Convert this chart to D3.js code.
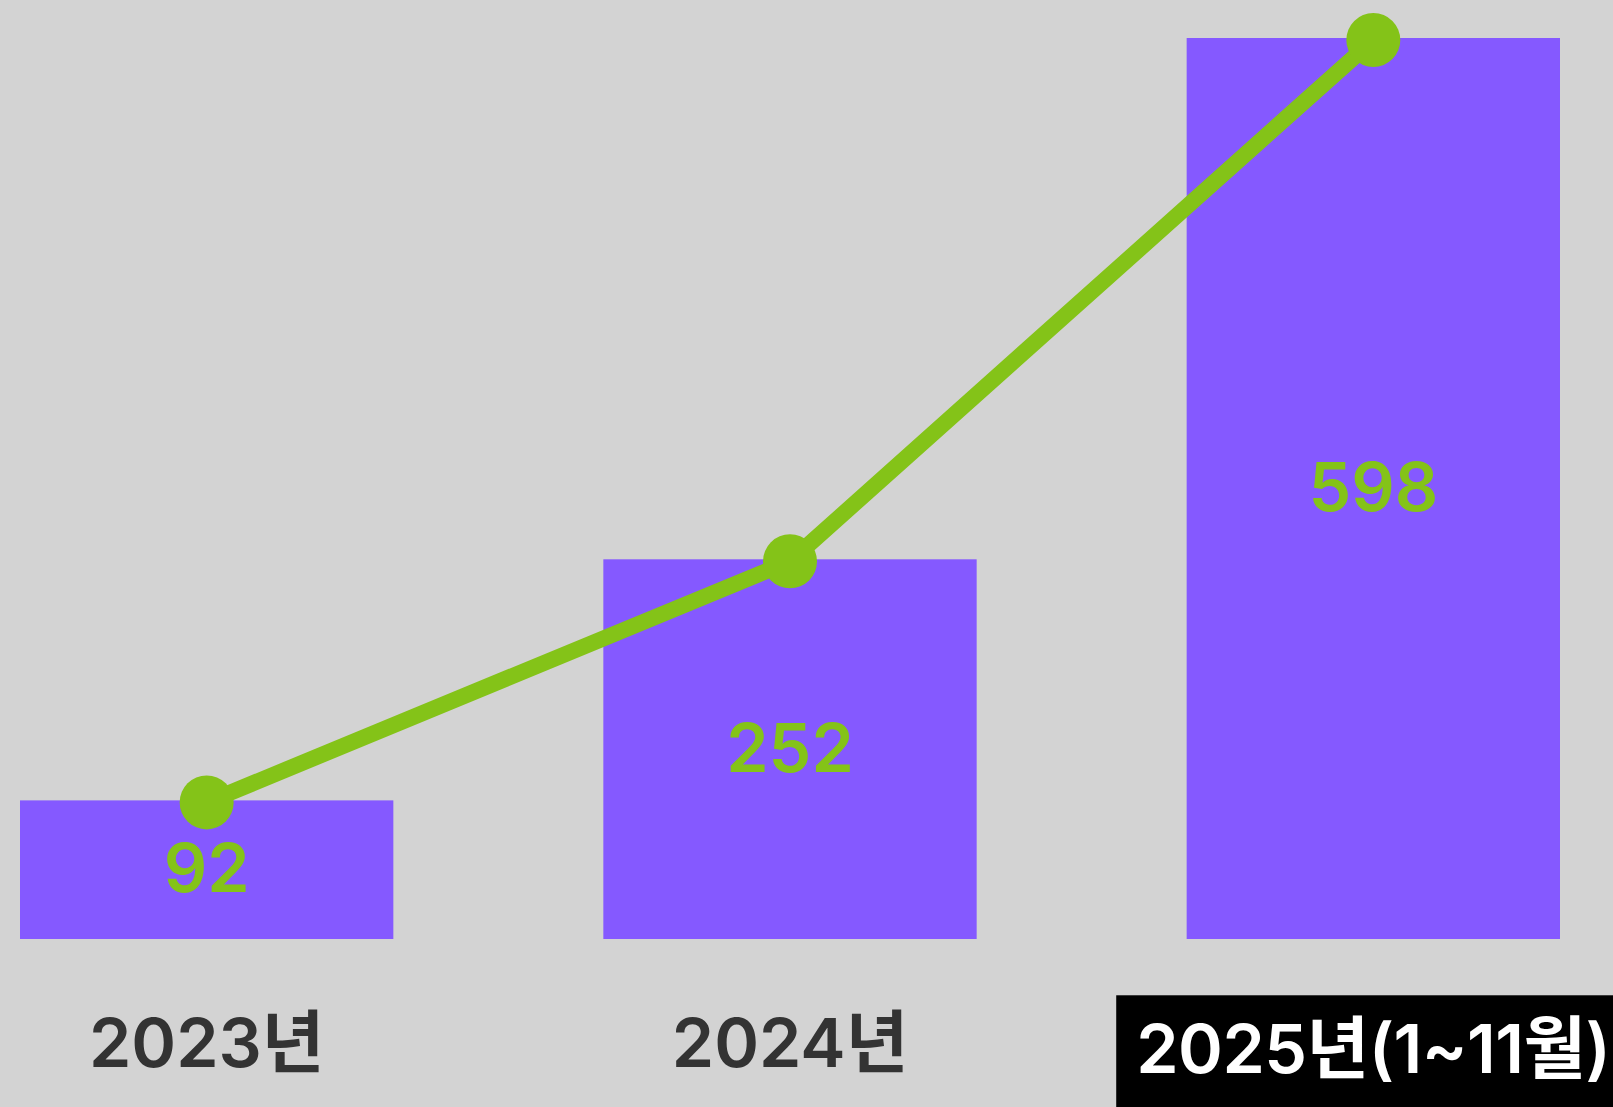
<!DOCTYPE html>
<html>
<head>
<meta charset="utf-8">
<script src="https://cdn.jsdelivr.net/npm/d3@7"></script>
<style>
  html, body { margin: 0; padding: 0; background: #d3d3d3; overflow: hidden; }
  svg { display: block; }
</style>
</head>
<body>
<div class="chart-container"></div>
<script>
// data
const categories = ["2023년", "2024년", "2025년(1~11월)"];
const values = [92, 252, 598];
const highlightCategory = "2025년(1~11월)";

const width = 1613;
const height = 1107;
const baseY = 939;
const topY = 38;

const barColor = "#8559ff";
const lineColor = "#84c318";
const fontFamily = "Inter, 'Noto Sans CJK KR', sans-serif";

let svg = d3.select(".chart-container").append("svg")
    .attr("width", width)
    .attr("height", height);

svg.append("rect")
    .attr("width", width)
    .attr("height", height)
    .attr("fill", "#d3d3d3");

let data = categories.map((c, i) => ({ category: c, value: values[i] }));

let xScale = d3.scaleBand()
    .domain(categories)
    .range([20, 1560])
    .paddingInner(0.36)
    .paddingOuter(0);

let yScale = d3.scaleLinear()
    .domain([0, d3.max(values)])
    .range([baseY, topY]);

// bars
svg.selectAll(".bar")
    .data(data)
    .enter()
    .append("rect")
    .attr("class", "bar")
    .attr("x", d => xScale(d.category))
    .attr("y", d => yScale(d.value))
    .attr("width", xScale.bandwidth())
    .attr("height", d => yScale(0) - yScale(d.value))
    .attr("fill", barColor);

// value labels in the middle of each bar
svg.selectAll(".value-label")
    .data(data)
    .enter()
    .append("text")
    .attr("class", "value-label")
    .attr("x", d => xScale(d.category) + xScale.bandwidth() / 2)
    .attr("y", d => (yScale(d.value) + yScale(0)) / 2)
    .attr("dy", "0.33em")
    .attr("text-anchor", "middle")
    .style("font-family", fontFamily)
    .style("font-weight", 600)
    .style("font-size", "68px")
    .attr("fill", lineColor)
    .text(d => d.value);

// trend line + points
let line = d3.line()
    .x(d => xScale(d.category) + xScale.bandwidth() / 2)
    .y(d => yScale(d.value) + 2);

svg.append("path")
    .datum(data)
    .attr("d", line)
    .attr("fill", "none")
    .attr("stroke", lineColor)
    .attr("stroke-width", 16);

svg.selectAll(".dot")
    .data(data)
    .enter()
    .append("circle")
    .attr("class", "dot")
    .attr("cx", d => xScale(d.category) + xScale.bandwidth() / 2)
    .attr("cy", d => yScale(d.value) + 2)
    .attr("r", 27)
    .attr("fill", lineColor);

// category axis
let xAxis = d3.axisBottom(xScale).tickSize(0).tickPadding(80);
let axisG = svg.append("g")
    .attr("class", "axis")
    .attr("transform", "translate(0," + baseY + ")")
    .call(xAxis);
axisG.select(".domain").remove();
axisG.selectAll("text")
    .style("font-family", fontFamily)
    .style("font-weight", 600)
    .style("font-size", "68px")
    .attr("fill", "#333333");

// highlighted last label: black box running off the right edge, white text
axisG.selectAll(".tick")
    .filter(d => d === highlightCategory)
    .each(function () {
        let tick = d3.select(this);
        let tx = xScale(highlightCategory) + xScale.bandwidth() / 2;
        let txt = tick.select("text")
            .attr("y", 86)
            .style("letter-spacing", "-0.5px")
            .attr("fill", "#ffffff");
        let box = txt.node().getBBox();
        tick.insert("rect", "text")
            .attr("x", box.x - 20)
            .attr("y", box.y - 12)
            .attr("width", width - tx - box.x + 20)
            .attr("height", 200)
            .attr("fill", "#000000");
    });
</script>
</body>
</html>
